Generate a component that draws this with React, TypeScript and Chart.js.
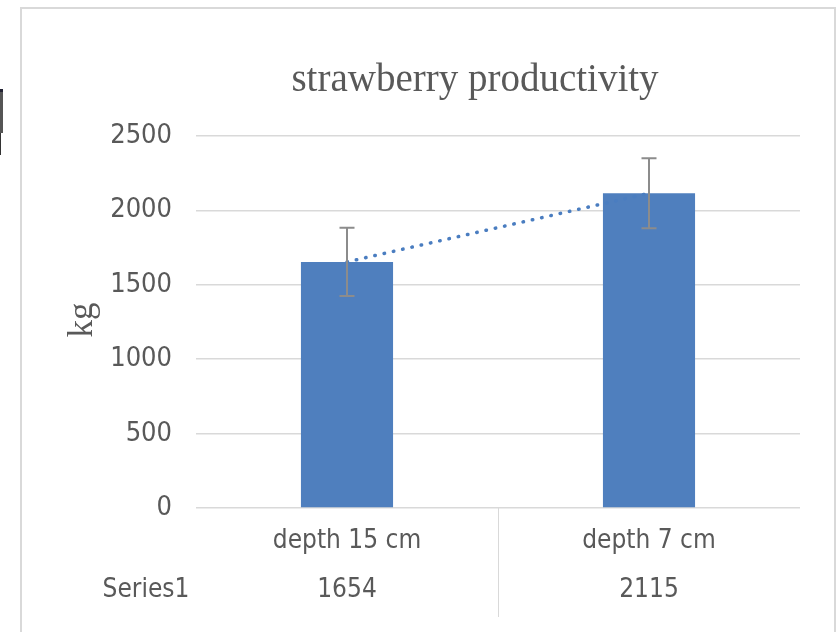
import React, { useEffect, useRef } from "react";
import { Chart, registerables } from "chart.js";

Chart.register(...registerables);

const categories = ["depth 15 cm", "depth 7 cm"];
const seriesName = "Series1";
const values = [1654, 2115];
const errors = [230, 235];
const yTicks = [0, 500, 1000, 1500, 2000, 2500];
const titleText = "strawberry productivity";
const yTitle = "kg";

const W = 839;
const H = 632;
const NARROW = '"Liberation Sans Narrow", "DejaVu Sans Condensed", "Roboto Condensed", sans-serif';
const SERIF = '"Liberation Serif", "DejaVu Serif", serif';
const TEXT = "#595959";
const GRID = "#d9d9d9";

const extrasPlugin = {
  id: "extras",
  afterDatasetsDraw(chart: any) {
    const ctx = chart.ctx;
    const y = chart.scales.y;
    const meta = chart.getDatasetMeta(0);
    ctx.save();
    ctx.strokeStyle = "#8c8c8c";
    ctx.lineWidth = 2;
    meta.data.forEach((el: any, i: number) => {
      const cx = el.x;
      const top = y.getPixelForValue(values[i] + errors[i]);
      const bot = y.getPixelForValue(values[i] - errors[i]);
      ctx.beginPath();
      ctx.moveTo(cx, top);
      ctx.lineTo(cx, bot);
      ctx.moveTo(cx - 7.5, top);
      ctx.lineTo(cx + 7.5, top);
      ctx.moveTo(cx - 7.5, bot);
      ctx.lineTo(cx + 7.5, bot);
      ctx.stroke();
    });
    ctx.restore();
  },
  afterDraw(chart: any) {
    const ctx = chart.ctx;
    const x = chart.scales.x;
    const area = chart.chartArea;
    ctx.save();
    ctx.fillStyle = TEXT;
    ctx.font = `39px ${SERIF}`;
    ctx.textAlign = "center";
    ctx.textBaseline = "middle";
    ctx.fillText(titleText, 475, 81);
    ctx.save();
    ctx.translate(83, 320);
    ctx.rotate(-Math.PI / 2);
    ctx.font = `35px ${SERIF}`;
    ctx.fillText(yTitle, 0, 0);
    ctx.restore();
    ctx.font = `26px ${NARROW}`;
    ctx.fillText(seriesName, 146, 590);
    values.forEach((v, i) => {
      ctx.fillText(String(v), x.getPixelForValue(i), 590);
    });
    ctx.strokeStyle = GRID;
    ctx.lineWidth = 1;
    for (let i = 0; i < categories.length - 1; i++) {
      const dx = (x.getPixelForValue(i) + x.getPixelForValue(i + 1)) / 2;
      ctx.beginPath();
      ctx.moveTo(Math.round(dx) + 0.5, area.bottom);
      ctx.lineTo(Math.round(dx) + 0.5, 617);
      ctx.stroke();
    }
    ctx.restore();
  },
};

export default function App() {
  const ref = useRef<HTMLCanvasElement | null>(null);
  useEffect(() => {
    document.body.style.margin = "0";
    const canvas = ref.current!;
    const chart = new Chart(canvas, {
      type: "bar",
      data: {
        labels: categories,
        datasets: [
          {
            type: "bar",
            label: seriesName,
            data: values,
            backgroundColor: "#4f7fbe",
            barPercentage: 0.305,
            categoryPercentage: 1,
            order: 2,
          } as any,
          {
            type: "line",
            label: "trend",
            data: values,
            borderColor: "#4a7dc0",
            borderWidth: 3.5,
            borderDash: [0.5, 9],
            borderCapStyle: "round",
            pointRadius: 0,
            fill: false,
            order: 1,
          } as any,
        ],
      },
      plugins: [extrasPlugin],
      options: {
        responsive: false,
        animation: false,
        layout: { padding: { left: 0, right: 39, top: 136, bottom: 0 } },
        plugins: {
          legend: { display: false },
          tooltip: { enabled: false },
          title: { display: false },
        },
        scales: {
          x: {
            afterFit: (s: any) => {
              s.height = 124;
            },
            grid: { display: false, drawTicks: false },
            border: { display: false },
            ticks: {
              color: TEXT,
              font: { family: NARROW, size: 26 },
              padding: 18,
            },
          },
          y: {
            min: 0,
            max: 2500,
            afterFit: (s: any) => {
              s.width = 196;
            },
            afterBuildTicks: (s: any) => {
              s.ticks = yTicks.map((v) => ({ value: v }));
            },
            grid: { color: GRID, lineWidth: 1.5, drawTicks: false },
            border: { display: false },
            ticks: {
              color: TEXT,
              font: { family: NARROW, size: 27 },
              padding: 24,
              callback: (v: any) => String(v),
            },
          },
        },
      } as any,
    });
    return () => chart.destroy();
  }, []);
  return (
    <div style={{ position: "relative", width: W, height: H, background: "#fff", overflow: "hidden" }}>
      <div
        style={{
          position: "absolute",
          left: 20,
          top: 7,
          width: 816,
          height: 640,
          border: "2px solid #d9d9d9",
          boxSizing: "border-box",
        }}
      />
      <div style={{ position: "absolute", left: 0, top: 89, width: 3, height: 44, background: "#555" }} />
      <div style={{ position: "absolute", left: 0, top: 89, width: 3, height: 3, background: "#223" }} />
      <div style={{ position: "absolute", left: 0, top: 133, width: 1, height: 22, background: "#333" }} />
      <canvas ref={ref} width={W} height={H} style={{ position: "absolute", left: 0, top: 0 }} />
    </div>
  );
}
